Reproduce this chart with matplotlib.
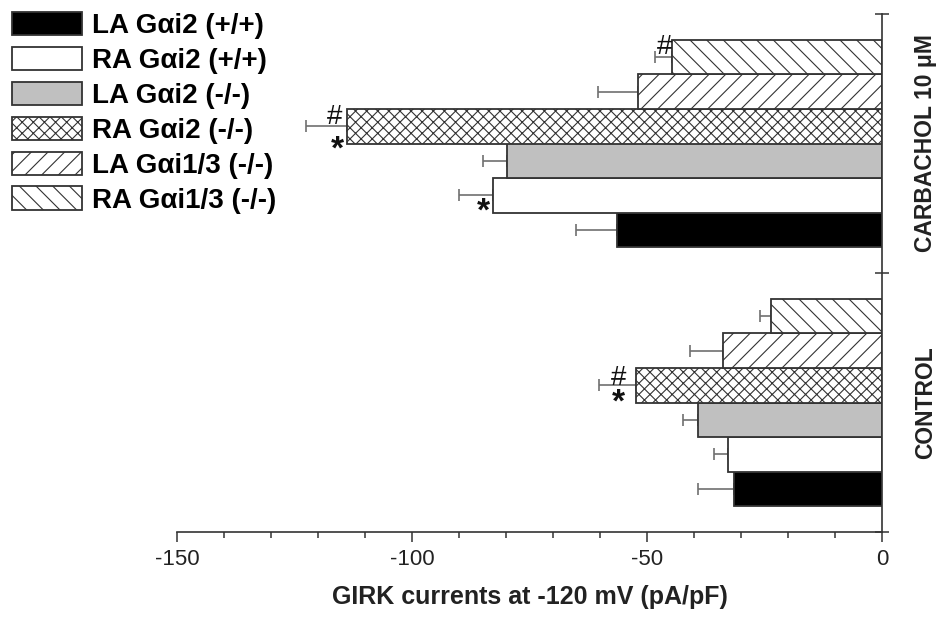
import numpy as np
import matplotlib
matplotlib.use('Agg')
import matplotlib.pyplot as plt
from matplotlib.ticker import MultipleLocator, NullFormatter

plt.rcParams['font.family'] = ['Liberation Sans', 'DejaVu Sans']
plt.rcParams['hatch.linewidth'] = 0.8

# ---------------- data ----------------
series = ['LA G\u03b1i2 (+/+)', 'RA G\u03b1i2 (+/+)', 'LA G\u03b1i2 (-/-)',
          'RA G\u03b1i2 (-/-)', 'LA G\u03b1i1/3 (-/-)', 'RA G\u03b1i1/3 (-/-)']
groups = ['CONTROL', 'CARBACHOL 10 \u03bcM']
control_mean = [-31.5, -32.7, -39.1, -52.4, -33.9, -23.6]
control_sem = [7.7, 3.0, 3.2, 7.9, 6.9, 2.4]
carbachol_mean = [-56.4, -82.7, -79.8, -113.9, -51.9, -44.6]
carbachol_sem = [8.8, 7.4, 5.1, 8.6, 8.6, 3.7]
x_ticks = [-150, -100, -50, 0]
x_label = 'GIRK currents at -120 mV (pA/pF)'
# significance marks: (group index, series index, symbol)
marks = [(1, 5, '#'), (1, 3, '#'), (1, 3, '*'), (1, 1, '*'), (0, 3, '#'), (0, 3, '*')]

# ---------------- styles ----------------
faces = ['black', 'white', '#c0c0c0', 'white', 'white', 'white']
hatches = [None, None, None, 'xxx', '//', '\\\\']
edge = '#333333'
# offsets of marks from bar end (points)
mark_offsets = [(-5.5, 7.5), (-8.5, 7), (-7, -17), (-7, -12), (-12, 5.5), (-12.5, -12.5)]

means = np.array([control_mean, carbachol_mean])
sems = np.array([control_sem, carbachol_sem])
centers = np.array([0.5, 1.5])
n = len(series)
h = 0.8 / n

fig = plt.figure(figsize=(9.41, 6.17), dpi=100)
ax = fig.add_axes([177 / 941, 1 - 532 / 617, (882 - 177) / 941, (532 - 14) / 617])

handles = []
for i in range(n):
    pos = centers + (i - (n - 1) / 2) * h
    ax.errorbar(means[:, i], pos, xerr=[sems[:, i], np.zeros(2)], fmt='none',
                ecolor='#707070', elinewidth=1.2, capsize=4, capthick=1.2, zorder=1)
    b = ax.barh(pos, means[:, i], height=h, color=faces[i], edgecolor=edge,
                linewidth=1.3, hatch=hatches[i], label=series[i], zorder=2)
    handles.append(b)

for (g, i, sym), (dx, dy) in zip(marks, mark_offsets):
    pos = centers[g] + (i - (n - 1) / 2) * h
    if sym == '#':
        kw = dict(fontsize=20, fontweight='normal')
    else:
        kw = dict(fontsize=24, fontweight='bold')
    ax.annotate(sym, xy=(means[g, i], pos), xytext=(dx, dy), textcoords='offset points',
                ha='center', va='center', color='#111111', **kw)

ax.set_xlim(-150, 0)
ax.set_ylim(0, 2)
for s in ['top', 'left']:
    ax.spines[s].set_visible(False)
for s in ['right', 'bottom']:
    ax.spines[s].set_color(edge)
    ax.spines[s].set_linewidth(1.2)

ax.set_xticks(x_ticks)
ax.set_xticklabels([str(t) for t in x_ticks], fontsize=16, color='#222222')
ax.xaxis.set_minor_locator(MultipleLocator(10))
ax.tick_params(axis='x', which='major', direction='out', length=7, width=1.1, color=edge, pad=5)
ax.tick_params(axis='x', which='minor', direction='out', length=4, width=1.1, color=edge)

ax.yaxis.tick_right()
ax.set_yticks([0, 1, 2])
ax.yaxis.set_major_formatter(NullFormatter())
ax.tick_params(axis='y', which='major', direction='inout', length=10, width=1.1, color=edge)

ax.set_xlabel(x_label, fontsize=18, fontweight='bold', labelpad=11, color='#222222')

tr = ax.get_yaxis_transform()
for g, name in enumerate(groups):
    ax.text(1.062, centers[g], name, transform=tr, rotation=90, ha='center', va='center',
            fontsize=16.5, fontweight='bold', color='#222222')

fig.legend(handles=handles, labels=series, loc='upper left',
           bbox_to_anchor=(12 / 941, 1 - 12 / 617), frameon=False,
           prop={'family': ['Liberation Sans', 'DejaVu Sans'], 'weight': 'bold', 'size': 20},
           handlelength=2.52, handleheight=0.9, handletextpad=0.36, labelspacing=0.28,
           borderpad=0, borderaxespad=0)

fig.savefig('out.png', dpi=100)
